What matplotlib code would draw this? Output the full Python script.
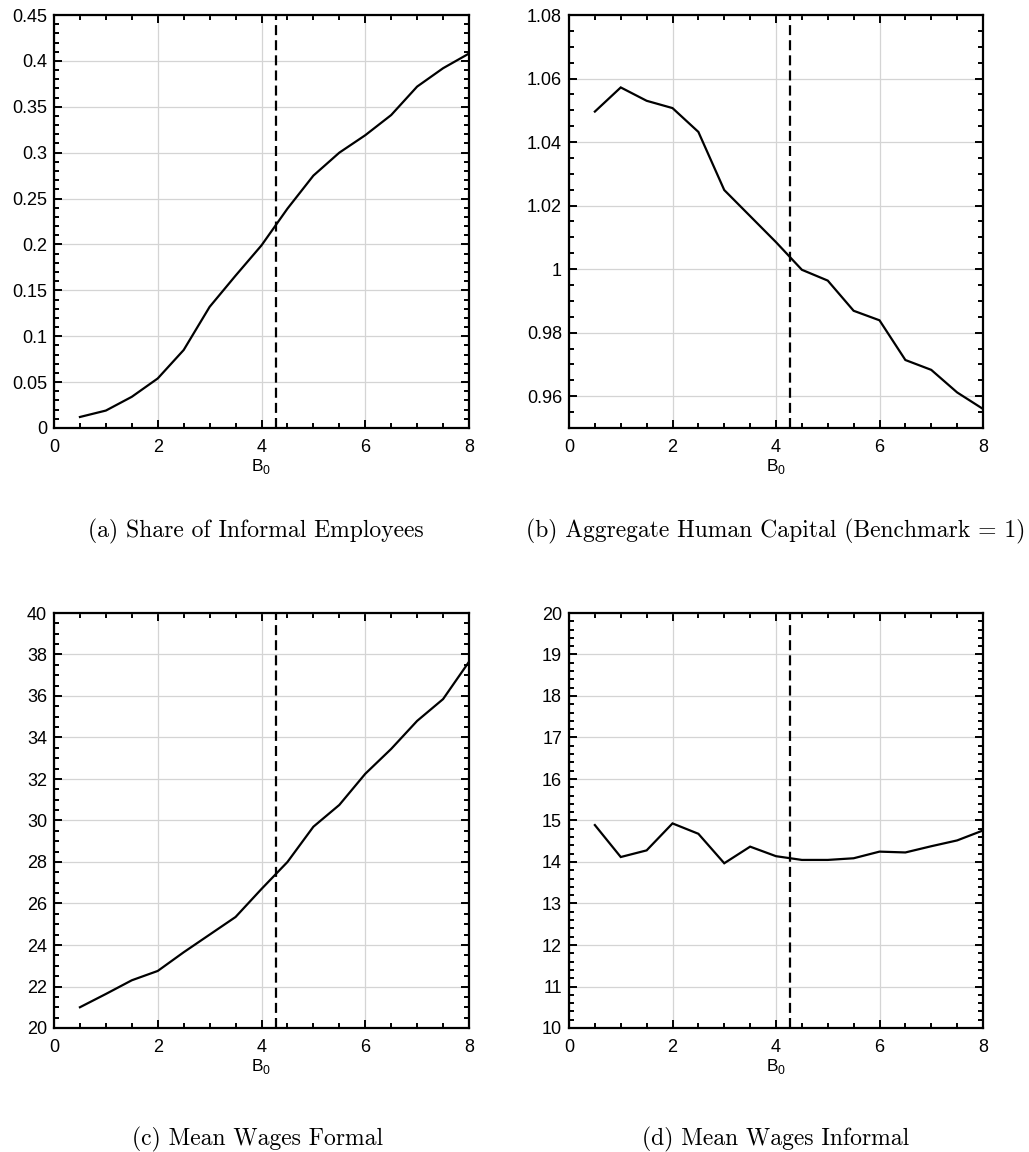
import matplotlib
matplotlib.use("Agg")
import matplotlib.pyplot as plt
from matplotlib.ticker import MultipleLocator, FuncFormatter

# ---- data ----
b0 = [0.5, 1.0, 1.5, 2.0, 2.5, 3.0, 3.5, 4.0, 4.5, 5.0, 5.5, 6.0, 6.5, 7.0, 7.5, 8.0]
share_informal = [0.012, 0.019, 0.034, 0.054, 0.085, 0.132, 0.166, 0.199, 0.239, 0.275,
                  0.300, 0.319, 0.341, 0.372, 0.392, 0.408]
human_capital = [1.0496, 1.0572, 1.0530, 1.0507, 1.0432, 1.0249, 1.0167, 1.0085, 0.9998, 0.9964,
                 0.9869, 0.9839, 0.9714, 0.9683, 0.9612, 0.9560]
wages_formal = [21.0, 21.64, 22.3, 22.75, 23.65, 24.5, 25.35, 26.7, 28.0, 29.7,
                30.75, 32.25, 33.45, 34.8, 35.85, 37.65]
wages_informal = [14.89, 14.12, 14.28, 14.93, 14.68, 13.97, 14.37, 14.14, 14.05, 14.05,
                  14.09, 14.25, 14.23, 14.38, 14.52, 14.76]
benchmark_b0 = 4.27
captions = ["(a) Share of Informal Employees",
            "(b) Aggregate Human Capital (Benchmark = 1)",
            "(c) Mean Wages Formal",
            "(d) Mean Wages Informal"]

W, H = 1029, 1152
fig = plt.figure(figsize=(W / 100, H / 100), dpi=100)
plt.rcParams['font.family'] = ['Liberation Sans', 'DejaVu Sans']

def fx(px):
    return px / W

def fy(py):
    return 1 - py / H

fmt = FuncFormatter(lambda v, p: '%g' % round(v, 4))
panels = [
    dict(rect=(54, 15, 469, 428), y=share_informal, ylim=(0, 0.45), major=0.05, minor=0.01),
    dict(rect=(569, 15, 983, 428), y=human_capital, ylim=(0.95, 1.08), major=0.02, minor=0.005),
    dict(rect=(54, 613, 469, 1028), y=wages_formal, ylim=(20, 40), major=2, minor=0.5),
    dict(rect=(569, 613, 983, 1028), y=wages_informal, ylim=(10, 20), major=1, minor=0.2),
]
cap_pos = [(256, 537), (776, 537), (258, 1145), (776, 1145)]

for i, p in enumerate(panels):
    x0, y0, x1, y1 = p['rect']
    ax = fig.add_axes([fx(x0), fy(y1), fx(x1 - x0), (y1 - y0) / H])
    ax.plot(b0, p['y'], color='black', lw=1.6, solid_joinstyle='miter', zorder=3)
    ax.axvline(benchmark_b0, color='black', lw=1.6, linestyle=(0, (4.5, 2.3)), zorder=3)
    ax.set_xlim(0, 8)
    ax.set_ylim(*p['ylim'])
    ax.xaxis.set_major_locator(MultipleLocator(2))
    ax.xaxis.set_minor_locator(MultipleLocator(0.5))
    ax.yaxis.set_major_locator(MultipleLocator(p['major']))
    ax.yaxis.set_minor_locator(MultipleLocator(p['minor']))
    ax.yaxis.set_major_formatter(fmt)
    ax.grid(True, which='major', color='#d4d4d4', lw=0.9, zorder=0)
    ax.tick_params(which='both', direction='in', top=True, right=True, labelsize=13,
                   width=1.4, colors='black')
    ax.tick_params(axis='x', which='both', pad=8)
    ax.tick_params(axis='y', which='both', pad=5)
    ax.tick_params(which='major', length=6)
    ax.tick_params(which='minor', length=3.5)
    for s in ax.spines.values():
        s.set_linewidth(1.6)
    ax.set_xlabel(r'B$_{\mathregular{0}}$', fontsize=12.5, labelpad=1)
    cx, cy = cap_pos[i]
    fig.text(fx(cx), fy(cy), captions[i], ha='center', va='baseline',
             fontsize=17, family=['cmr10', 'DejaVu Serif'])

fig.savefig('out.png', dpi=100)
